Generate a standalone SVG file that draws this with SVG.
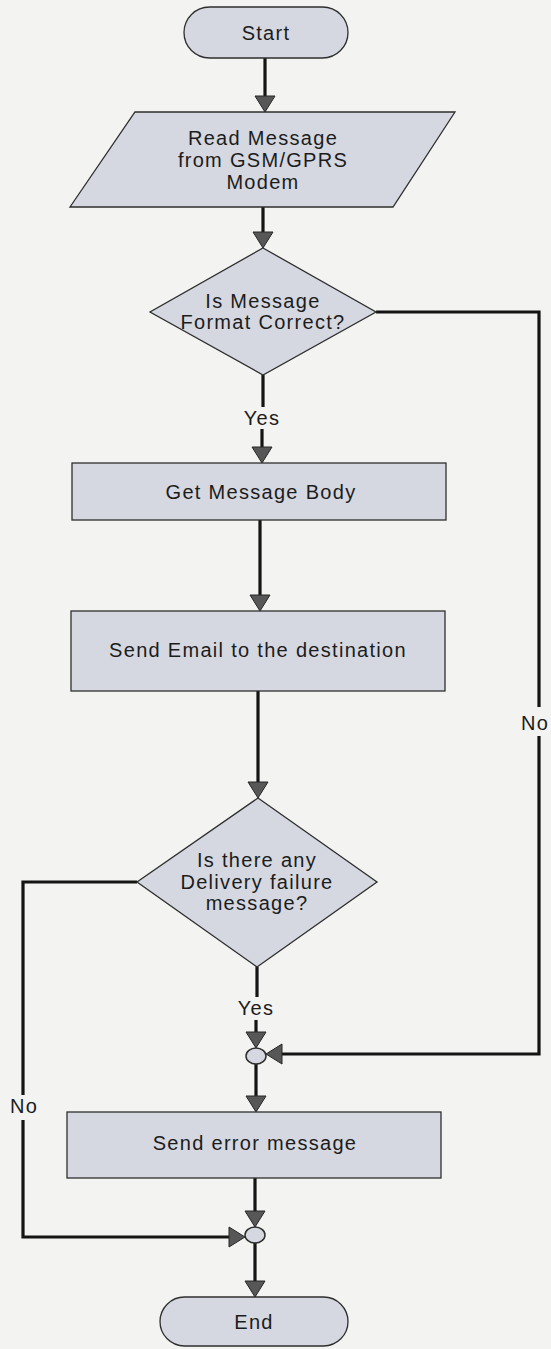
<svg xmlns="http://www.w3.org/2000/svg" width="551" height="1349" viewBox="0 0 551 1349">
<defs>
<style>
.shape{fill:#d5d8e0;stroke:#2e2e2e;stroke-width:1.3}
.jn{fill:#d5d8e0;stroke:#2e2e2e;stroke-width:1.5}
.t{font-family:"Liberation Sans",Arial,sans-serif;font-size:20px;letter-spacing:1.3px;fill:#1c1c1c;text-anchor:middle}
.c{fill:none;stroke:#141414;stroke-width:3.2}
</style>
<marker id="ah" viewBox="-1 -1 18 22" refX="0" refY="10" markerWidth="18" markerHeight="22" markerUnits="userSpaceOnUse" orient="auto">
<path d="M0,0 L16,10 L0,20 Z" fill="#575757" stroke="#262626" stroke-width="1"/>
</marker>
</defs>
<rect x="0" y="0" width="551" height="1349" fill="#f3f3f1"/>

<g id="connectors">
<path class="c" d="M265,58 V96" marker-end="url(#ah)"/>
<path class="c" d="M263,207 V232" marker-end="url(#ah)"/>
<path class="c" d="M263,375 V407"/>
<path class="c" d="M262,429 V447" marker-end="url(#ah)"/>
<path class="c" d="M260,520 V595" marker-end="url(#ah)"/>
<path class="c" d="M258,691 V782" marker-end="url(#ah)"/>
<path class="c" d="M257,967 V997"/>
<path class="c" d="M256,1020 V1032" marker-end="url(#ah)"/>
<path class="c" d="M376,312 H539 V707"/>
<path class="c" d="M539,736 V1054 H282" marker-end="url(#ah)"/>
<path class="c" d="M256,1064 V1096" marker-end="url(#ah)"/>
<path class="c" d="M255,1178 V1211" marker-end="url(#ah)"/>
<path class="c" d="M137,882 H23 V1095"/>
<path class="c" d="M23,1120 V1237 H229" marker-end="url(#ah)"/>
<path class="c" d="M255,1243 V1281" marker-end="url(#ah)"/>
<text class="t" x="262" y="425">Yes</text>
<text class="t" x="256" y="1015">Yes</text>
<text class="t" x="535" y="730">No</text>
<text class="t" x="24" y="1113">No</text>
</g>

<g id="start">
<rect class="shape" x="184" y="7" width="164" height="51" rx="25.5"/>
<text class="t" x="266" y="40">Start</text>
</g>

<g id="read-message">
<polygon class="shape" points="135,112 455,112 393,207 70,207"/>
<text class="t" x="263" y="145">Read Message</text>
<text class="t" x="263" y="167">from GSM/GPRS</text>
<text class="t" x="263" y="189">Modem</text>
</g>

<g id="format-check">
<polygon class="shape" points="263,248 376,312 263,375 150,312"/>
<text class="t" x="263" y="308">Is Message</text>
<text class="t" x="263" y="329">Format Correct?</text>
</g>

<g id="get-body">
<rect class="shape" x="72" y="463" width="374" height="57"/>
<text class="t" x="261" y="499">Get Message Body</text>
</g>

<g id="send-email">
<rect class="shape" x="71" y="611" width="374" height="80"/>
<text class="t" x="258" y="657">Send Email to the destination</text>
</g>

<g id="delivery-check">
<polygon class="shape" points="258,798 377,882 257,967 137,882"/>
<text class="t" x="257" y="867">Is there any</text>
<text class="t" x="257" y="889">Delivery failure</text>
<text class="t" x="257" y="910">message?</text>
</g>

<g id="junction-1">
<ellipse class="jn" cx="256" cy="1056" rx="10" ry="8"/>
</g>

<g id="send-error">
<rect class="shape" x="67" y="1112" width="374" height="66"/>
<text class="t" x="255" y="1150">Send error message</text>
</g>

<g id="junction-2">
<ellipse class="jn" cx="255" cy="1235" rx="10" ry="8"/>
</g>

<g id="end">
<rect class="shape" x="160" y="1297" width="188" height="49" rx="24.5"/>
<text class="t" x="254" y="1329">End</text>
</g>
</svg>
